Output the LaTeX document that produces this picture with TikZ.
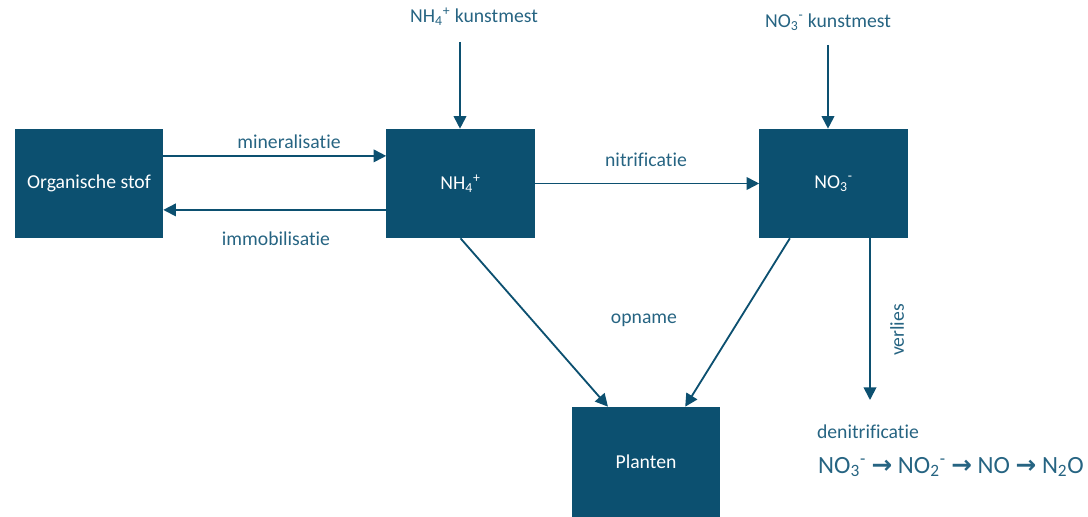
\documentclass[tikz,border=0pt]{standalone}
\usepackage{fontspec}
\setmainfont{Carlito}[RawFeature={-liga;-calt;-clig;-dlig}]
\newfontfamily\symfont{DejaVu Sans}
\usetikzlibrary{arrows.meta}
\definecolor{boxblue}{RGB}{12,80,112}
\definecolor{textblue}{RGB}{38,100,130}
\tikzset{
  pool/.style={fill=boxblue, text=white, minimum width=3.7cm, minimum height=2.725cm, inner sep=0pt, font=\fontsize{14}{16}\selectfont},
  flow/.style={draw=boxblue, line width=1.3pt, -{Triangle[width=9pt,length=9pt]}},
  lbl/.style={text=textblue, inner sep=1pt, font=\fontsize{14}{16}\selectfont}
}
\begin{document}
\begin{tikzpicture}[x=0.025cm, y=-0.025cm]
      \useasboundingbox (0,0) rectangle (1088,517);
      \node[pool] (a) at (89, 183.5) {Organische stof};
      \node[pool] (b) at (460.5, 183.5) {NH\textsubscript{4}\textsuperscript{+}};
      \node[pool] (c) at (833.5, 183.5) {NO\textsubscript{3}\textsuperscript{-}};
      \node[pool, minimum height=2.75cm] (d) at (646, 462) {Planten};
      \node[lbl] (e) at (474, 17) {NH\textsubscript{4}\textsuperscript{+} kunstmest};
      \node[lbl] (f) at (828, 22) {NO\textsubscript{3}\textsuperscript{-} kunstmest};
      \coordinate (e1) at (460, 42);
      \coordinate (f1) at (828, 45);
      \coordinate (g1) at (870, 400);
      \node[lbl] (h) at (289, 142) {mineralisatie};
      \node[lbl] (i) at (276, 239) {immobilisatie};
      \node[lbl] (j) at (646, 160) {nitrificatie};
      \node[lbl] (k) at (644, 320) {opname};
      \node[lbl, rotate=90] (l) at (897, 330) {verlies};
      \node[lbl] (m) at (868, 432) {denitrificatie};
      \node[lbl, font=\fontsize{17.6}{20}\selectfont] (n) at (951, 467) {NO\textsubscript{3}\textsuperscript{-} {\symfont\bfseries →} NO\textsubscript{2}\textsuperscript{-} {\symfont\bfseries →} NO {\symfont\bfseries →} N\textsubscript{2}O};
      \draw [flow] ([yshift=0.69cm]a.east) to ([yshift=0.69cm]b.west);
      \draw [flow] ([yshift=-0.66cm]b.west) to ([yshift=-0.66cm]a.east);
      \draw [flow] (b.east) to (c.west);
      \draw [flow] (e1) to (e1 |- b.north);
      \draw [flow] (f1) to (f1 |- c.north);
      \draw [flow] (b.south) to ([xshift=-0.95cm]d.north);
      \draw [flow] ([xshift=-1.09cm]c.south) to ([xshift=0.98cm]d.north);
      \draw [flow] (g1 |- c.south) to (g1);
    \end{tikzpicture}
\end{document}
